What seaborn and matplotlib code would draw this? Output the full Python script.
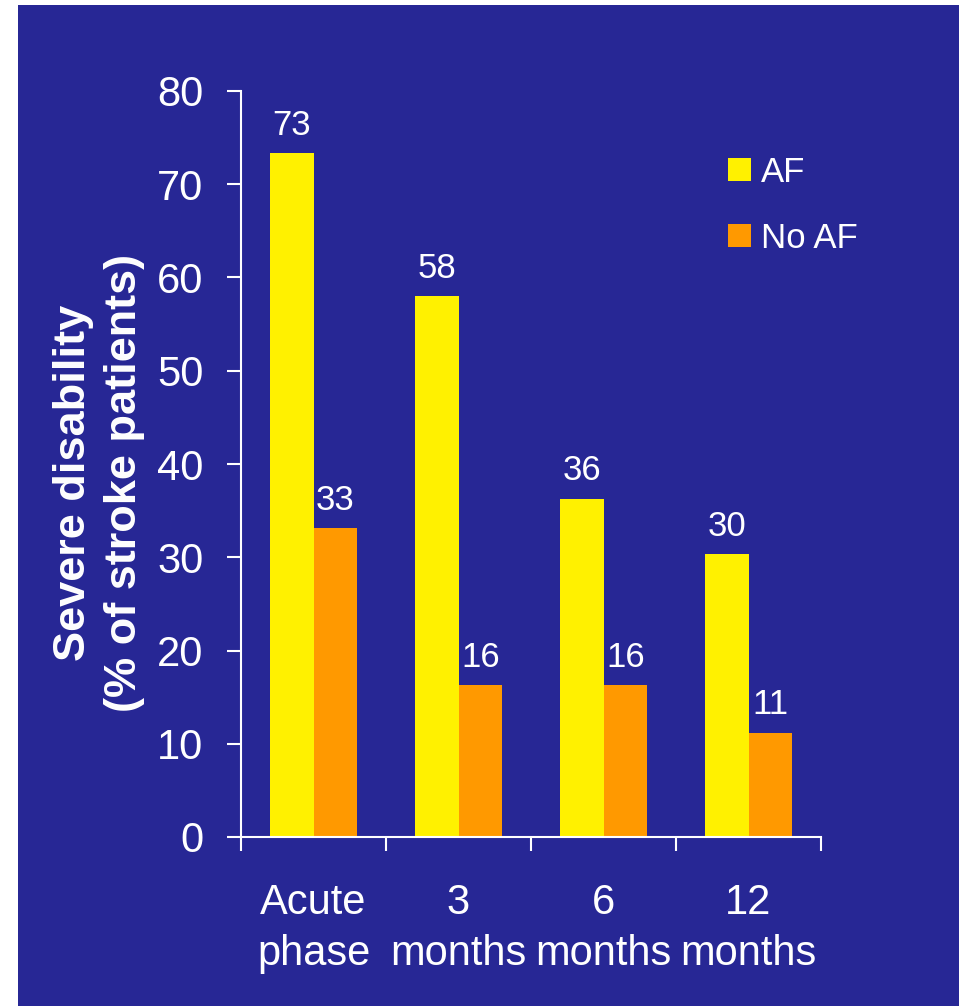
import matplotlib
matplotlib.use("Agg")
import matplotlib.pyplot as plt
from matplotlib.patches import Rectangle
import seaborn as sns
import pandas as pd

# data
periods = ["Acute\nphase", "3\nmonths", "6\nmonths", "12\nmonths"]
af = [73.3, 58.0, 36.3, 30.3]
no_af = [33.1, 16.3, 16.3, 11.2]
groups = ["AF", "No AF"]
colors = {"AF": "#FFF100", "No AF": "#FF9900"}

BLUE = "#272795"

df = pd.DataFrame({
    "period": periods * 2,
    "value": af + no_af,
    "group": [groups[0]] * len(af) + [groups[1]] * len(no_af),
})

sns.set_style("white")
plt.rcParams["font.family"] = ["Liberation Sans", "DejaVu Sans"]

fig = plt.figure(figsize=(9.64, 10.06), dpi=100, facecolor="white")
fig.patches.append(Rectangle((18 / 964, 0), (959 - 18) / 964, 1 - 5 / 1006,
                             transform=fig.transFigure, facecolor=BLUE,
                             edgecolor="none", zorder=-1))

ax = fig.add_axes([241 / 964, 1 - 837 / 1006, (821 - 241) / 964, (837 - 91) / 1006])
ax.set_facecolor(BLUE)

sns.barplot(data=df, x="period", y="value", hue="group", palette=colors,
            width=0.6, saturation=1, linewidth=0, ax=ax)

for cont in ax.containers:
    ax.bar_label(cont, labels=[f"{v:.0f}" for v in cont.datavalues],
                 padding=8, color="white", fontsize=25)

ax.set_ylim(0, 80)
ax.set_xlim(-0.5, 3.5)
ax.set_yticks(range(0, 81, 10))
ax.set_xlabel("")
ax.set_ylabel("Severe disability\n(% of stroke patients)", color="white",
              fontsize=32.5, fontweight="bold", linespacing=1.3)
ax.yaxis.set_label_coords(-0.166, 0.4745)

for side in ["top", "right"]:
    ax.spines[side].set_visible(False)
for side in ["left", "bottom"]:
    ax.spines[side].set_color("white")
    ax.spines[side].set_linewidth(1.5)

ax.tick_params(axis="y", colors="white", labelsize=30, length=10, width=1.5,
               direction="out", pad=17, left=True)
ax.tick_params(axis="x", which="major", colors="white", labelsize=30, length=0, pad=33)
for lbl in ax.get_xticklabels():
    lbl.set_linespacing(1.35)
ax.set_xticks([-0.5, 0.5, 1.5, 2.5, 3.5], minor=True)
ax.tick_params(axis="x", which="minor", color="white", length=10, width=1.5,
               direction="out", bottom=True)

ax.legend(loc="upper left", bbox_to_anchor=(0.786, 0.955), frameon=False,
          fontsize=25, labelcolor="white", handlelength=0.65, handleheight=0.65,
          handletextpad=0.3, labelspacing=0.95)

fig.savefig("out.png", dpi=100, facecolor="white")
